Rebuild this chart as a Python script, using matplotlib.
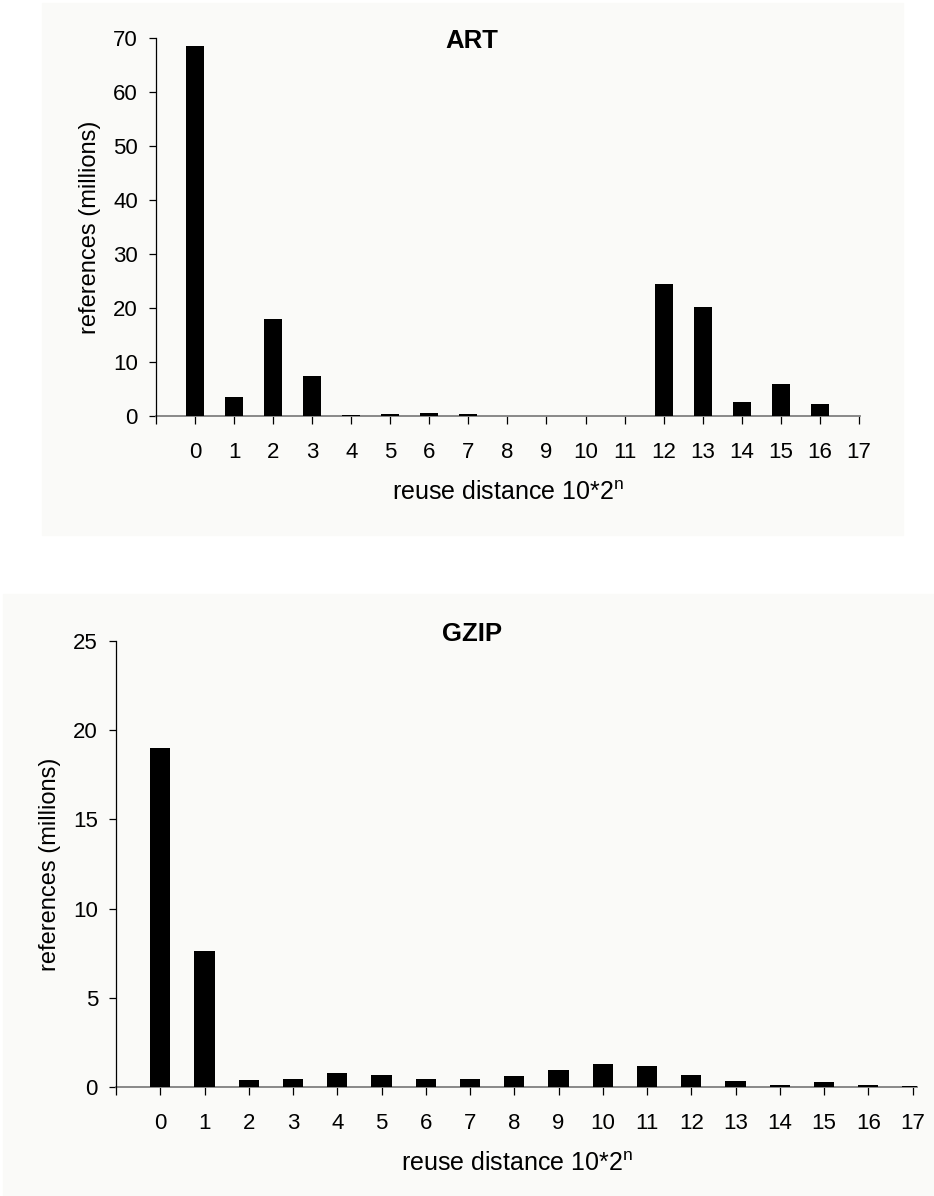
import matplotlib
matplotlib.use("Agg")
import matplotlib.pyplot as plt
from matplotlib.patches import Rectangle

plt.rcParams['font.family'] = ['Liberation Sans', 'DejaVu Sans']

# reuse distance buckets (10*2^n)
buckets = list(range(18))

# references (millions)
art_refs = [68.5, 3.6, 18.0, 7.4, 0.25, 0.4, 0.5, 0.4, 0, 0, 0, 0,
            24.4, 20.1, 2.6, 6.0, 2.2, 0]
gzip_refs = [19.0, 7.65, 0.38, 0.45, 0.77, 0.68, 0.47, 0.45, 0.61, 0.98,
             1.29, 1.17, 0.70, 0.33, 0.14, 0.26, 0.12, 0.07]

art_yticks = [0, 10, 20, 30, 40, 50, 60, 70]
gzip_yticks = [0, 5, 10, 15, 20, 25]

W, H = 934, 1196
fig = plt.figure(figsize=(W / 100, H / 100), dpi=100)
bg = '#fafaf8'

# light panel backgrounds
fig.patches.append(Rectangle((42 / W, 1 - 535 / H), (903 - 42) / W, (535 - 3) / H,
                             transform=fig.transFigure, color=bg, zorder=-10))
fig.patches.append(Rectangle((3 / W, 0), (W - 3) / W, (1196 - 594) / H,
                             transform=fig.transFigure, color=bg, zorder=-10))


def draw(ax, vals, yticks, title, xr, tpos):
    ax.set_facecolor('none')
    ax.bar(buckets, vals, width=0.46, color='black', zorder=3)
    ax.set_xlim(-1, xr)
    ax.set_ylim(0, yticks[-1])
    ax.set_yticks(yticks)
    ax.set_xticks([-1] + buckets)
    ax.set_xticklabels([''] + [str(b) for b in buckets])
    ax.spines['top'].set_visible(False)
    ax.spines['right'].set_visible(False)
    ax.spines['bottom'].set_color('#808080')
    ax.spines['bottom'].set_linewidth(1.3)
    ax.spines['bottom'].set_zorder(2)
    ax.spines['left'].set_linewidth(0.9)
    ax.tick_params(axis='y', direction='out', length=5, width=0.9, labelsize=16, pad=8)
    ax.tick_params(axis='x', direction='out', length=6, width=0.9, labelsize=16, pad=13)
    ax.set_xlabel(r'reuse distance 10*2$^{\mathregular{n}}$', fontsize=18, labelpad=13)
    ax.set_ylabel('references (millions)', fontsize=17, labelpad=9)
    ax.text(tpos[0], tpos[1], title, transform=ax.transAxes, ha='center', va='center',
            fontsize=18.5, fontweight='bold')


ax1 = fig.add_axes([156 / W, 1 - 416 / H, (860 - 156) / W, (416 - 38) / H])
draw(ax1, art_refs, art_yticks, 'ART', 17.03, (0.449, 0.993))

ax2 = fig.add_axes([116 / W, 1 - 1087 / H, (917 - 116) / W, (1087 - 641) / H])
draw(ax2, gzip_refs, gzip_yticks, 'GZIP', 17.1, (0.444, 1.016))

fig.savefig('out.png', dpi=100)
